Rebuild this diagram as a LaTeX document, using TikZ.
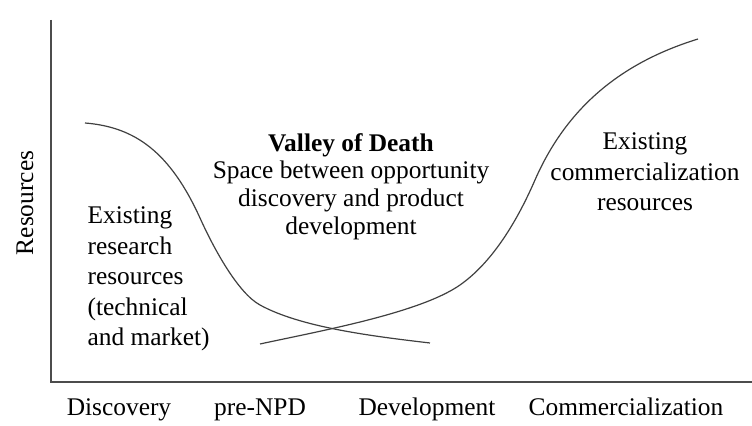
\documentclass[tikz,border=0pt]{standalone}
\usepackage{fontspec}
\setmainfont{Liberation Serif}
\usepackage{tikz}

\begin{document}
\begin{tikzpicture}[x=0.5pt,y=-0.5pt,line width=0.6pt,
	lbl/.style={inner sep=0pt,font=\fontsize{12.7}{15.3}\selectfont},
	midlbl/.style={inner sep=0pt,font=\fontsize{12.7}{13.85}\selectfont,align=center}]
	\useasboundingbox (0,0) rectangle (752,426);
	
	%draws the axes
	\coordinate (top) at (51,20);
	\coordinate (origin) at (51,382);
	\coordinate (right) at (752,382);
	\draw[black!70,line width=0.75pt] (top) -- (origin) -- (right);
	\node[lbl,rotate=90] (res) at (25,203) {Resources};
	
	%the stages along the bottom
	\node[lbl,anchor=base] (disc) at (119,416) {Discovery};
	\node[lbl,anchor=base] (prenpd) at (260,416) {pre-NPD};
	\node[lbl,anchor=base] (dev) at (427,416) {Development};
	\node[lbl,anchor=base] (comm) at (626,416) {Commercialization};
	
	%research resources curve
	\draw[black!75] (85,123) .. controls (135,127) and (170,152) .. (200,218)
		.. controls (214,249) and (238,293) .. (260,305)
		.. controls (300,327) and (370,336) .. (430,343);
	
	%commercialization resources curve
	\draw[black!75] (260,344) .. controls (320,331) and (420,313) .. (460,285)
		.. controls (490,264) and (515,226) .. (535,180)
		.. controls (570,100) and (630,60) .. (698,39);
	
	%the labels
	\node[lbl,align=left,anchor=west] (research) at (87,279)
		{Existing\\research\\resources\\(technical\\and market)};
	\node[midlbl] (valley) at (351,186.5)
		{\textbf{Valley of Death}\\Space between opportunity\\discovery and product\\development};
	\node[lbl,align=center] (commres) at (645,172)
		{Existing\\commercialization\\resources};
\end{tikzpicture}
\end{document}
